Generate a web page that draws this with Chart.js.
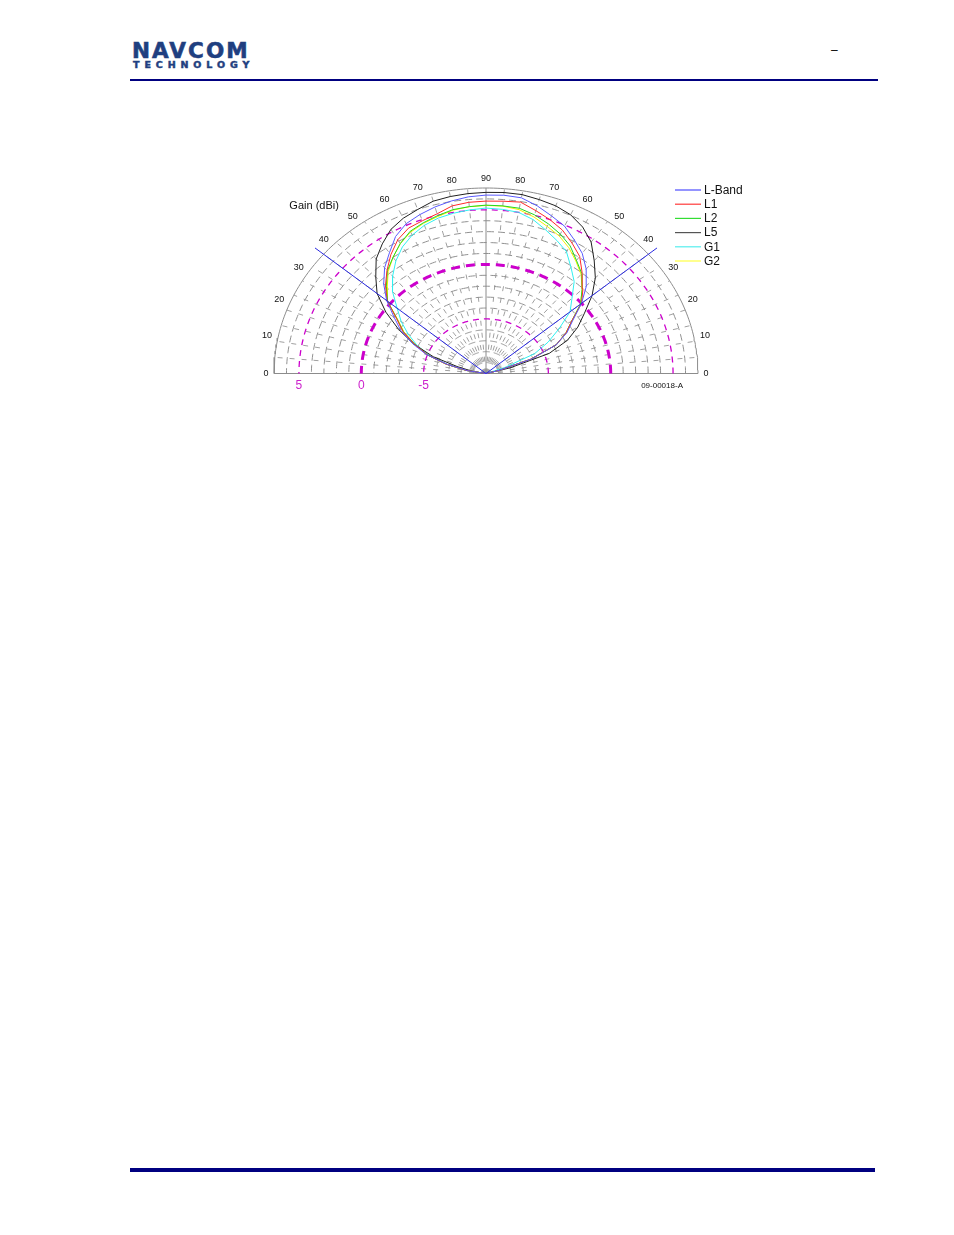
<!DOCTYPE html>
<html>
<head>
<meta charset="utf-8">
<script src="https://cdn.jsdelivr.net/npm/chart.js@4.4.1/dist/chart.umd.min.js"></script>
<style>
  html, body { margin: 0; padding: 0; background: #fff; }
  body { width: 954px; height: 1235px; position: relative; overflow: hidden; font-family: "Liberation Sans", Arial, sans-serif; }
  #logo1 { position: absolute; left: 132px; top: 39.5px; font: bold 21.5px "DejaVu Sans"; line-height: 21.5px; color: #1f3f80; letter-spacing: 2.1px; white-space: nowrap; -webkit-text-stroke: 0.6px #1f3f80; }
  #logo2 { position: absolute; left: 133px; top: 59.5px; font: bold 9.5px "DejaVu Sans"; line-height: 9.5px; color: #1f3f80; letter-spacing: 4.9px; white-space: nowrap; -webkit-text-stroke: 0.5px #1f3f80; }
  #dash { position: absolute; left: 831px; top: 43px; font: 12px "Liberation Sans"; color: #000; }
  #topline { position: absolute; left: 130px; top: 79px; width: 748px; height: 2px; background: #000080; }
  #botline { position: absolute; left: 130px; top: 1168px; width: 745px; height: 4px; background: #000080; }
  #c { position: absolute; left: 0; top: 0; }
</style>
</head>
<body>
<div id="logo1">NAVCOM</div>
<div id="logo2">TECHNOLOGY</div>
<div id="dash">–</div>
<div id="topline"></div>
<div id="botline"></div>
<canvas id="c" width="954" height="420" style="width:954px;height:420px"></canvas>
<script>
// ---------------- DATA ----------------
// Polar angle (deg): 0 = right horizon, 90 = zenith, 180 = left horizon
const angleDeg = [0,5,10,15,20,25,30,35,40,45,50,55,60,65,70,75,80,85,90,95,100,105,110,115,120,125,130,135,140,145,150,155,160,165,170,175,180];

// Gain (dBi); values at or below -10 sit on the centre
const gainLBand = [-10,-10,-10,-9.0,-6.1,-3.8,-2.5,-1.5,0.0,1.4,2.5,3.45,4.15,4.9,5.37,5.9,6.35,6.4,6.35,6.25,6.05,5.8,5.5,5.15,4.5,3.5,2.65,1.6,0.4,-1.0,-2.1,-3.5,-4.9,-6.8,-8.5,-10,-10];
const gainL1    = [-10,-10,-10,-9.0,-6.2,-3.8,-2.6,-1.6,0.0,1.0,2.0,3.1,3.8,4.5,5.0,5.45,5.95,5.85,5.8,5.75,5.6,5.15,4.9,4.7,4.15,3.3,2.35,1.4,0.35,-1.25,-2.3,-3.7,-5.0,-6.7,-8.4,-10,-10];
const gainL2    = [-10,-10,-10,-9.0,-6.2,-3.8,-2.6,-1.6,-0.1,0.9,1.95,2.65,3.5,4.1,4.6,5.05,5.38,5.42,5.43,5.35,5.25,4.98,4.7,4.38,3.75,3.0,2.3,1.3,0.3,-1.3,-2.35,-3.7,-5.0,-6.7,-8.4,-10,-10];
const gainL5    = [-10,-10,-10,-8.0,-4.6,-2.8,-1.5,-0.36,1.1,2.4,3.5,4.7,5.5,6.05,6.35,6.5,6.65,6.65,6.6,6.55,6.47,6.35,6.0,5.7,5.25,4.5,3.7,2.5,1.4,-0.2,-1.9,-3.6,-5.5,-7.7,-9.0,-10,-10];
const gainG1    = [-10,-10,-10,-10,-8.4,-5.7,-4.25,-2.85,-1.2,-0.25,1.0,1.88,2.9,3.45,4.0,4.6,5.0,5.1,5.16,5.05,4.92,4.75,4.45,4.0,3.4,2.6,1.65,0.6,-0.7,-1.7,-2.8,-3.9,-5.2,-6.8,-8.5,-10,-10];
const gainG2    = [-10,-10,-10,-9.0,-6.2,-3.8,-2.6,-1.6,-0.1,0.9,1.86,2.57,3.3,3.9,4.35,4.85,5.25,5.4,5.4,5.35,5.2,4.9,4.65,4.3,3.75,3.0,2.2,1.2,0.35,-1.35,-2.4,-3.75,-5.0,-6.7,-8.4,-10,-10];

const seriesNames  = ['L-Band','L1','L2','L5','G1','G2'];
const seriesGains  = [gainLBand, gainL1, gainL2, gainL5, gainG1, gainG2];

// Axes / grid
const gainFloor = -10;                 // plot centre
const gainCeil  = 7;                   // outer circle
const greyRingGains    = [-9,-8,-7,-6,-4,-3,-2,-1,1,2,3,4,6];
const magentaRingGains = [-5,0,5];
const magentaLabels    = ['-5','0','5'];
const radialAngles = [5,10,15,20,25,30,35,40,45,50,55,60,65,70,75,80,85,95,100,105,110,115,120,125,130,135,140,145,150,155,160,165,170,175];
const elevTicks = [0,10,20,30,40,50,60,70,80,90];
const maskElev  = [40];                // elevation mask lines (both sides)
const maskGainEnd = 7.9;

// ---------------- STYLES ----------------
const lineColors   = ['#5a5aff','#ff2a2a','#22d822','#202020','#30f0f0','#f2f200'];
const legendColors = ['#7070ff','#ff3a3a','#33dd33','#555555','#55eeee','#ffff44'];

const rad = d => d * Math.PI / 180;
const rOf = g => Math.max(0, g - gainFloor);
const polar = (a, r) => ({ x: r * Math.cos(rad(a)), y: r * Math.sin(rad(a)) });
const arc = r => { const p = []; for (let a = 0; a <= 180; a += 1) p.push(polar(a, r)); return p; };
const R = gainCeil - gainFloor;

const base = { showLine: true, pointRadius: 0, pointHoverRadius: 0, fill: false, tension: 0, clip: false, borderWidth: 1 };
const datasets = [];

// mask lines (top)
maskElev.forEach(e => {
  [e, 180 - e].forEach(a => datasets.push(Object.assign({}, base, {
    label: 'mask', data: [polar(a, 0), polar(a, rOf(maskGainEnd))], borderColor: '#2a2ae0', borderWidth: 1
  })));
});
// pattern series
seriesGains.forEach((g, i) => datasets.push(Object.assign({}, base, {
  label: seriesNames[i], data: angleDeg.map((a, k) => polar(a, rOf(g[k]))), borderColor: lineColors[i], borderWidth: 1
})));
// magenta gain rings
magentaRingGains.forEach(g => datasets.push(Object.assign({}, base, {
  label: 'ring' + g, data: arc(rOf(g)), borderColor: '#cc00cc',
  borderWidth: g === 0 ? 3 : 1.3, borderDash: g === 0 ? [9, 6] : [6, 5]
})));
// solid frame
datasets.push(Object.assign({}, base, { label: 'outer', data: arc(R), borderColor: '#8c8c8c' }));
datasets.push(Object.assign({}, base, { label: 'base', data: [polar(180, R), polar(0, R)], borderColor: '#8c8c8c' }));
datasets.push(Object.assign({}, base, { label: 'zen', data: [polar(90, 0), polar(90, R)], borderColor: '#8c8c8c' }));
// grey rings
greyRingGains.forEach(g => datasets.push(Object.assign({}, base, {
  label: 'g' + g, data: arc(rOf(g)), borderColor: '#909090', borderDash: [7, 4]
})));
// radial spokes
radialAngles.forEach(a => datasets.push(Object.assign({}, base, {
  label: 's' + a, data: [polar(a, 0), polar(a, R)], borderColor: '#a0a0a0', borderDash: [5, 7]
})));

const textPlugin = {
  id: 'texts',
  afterDraw(chart) {
    const ctx = chart.ctx, xs = chart.scales.x, ys = chart.scales.y;
    const px = p => [xs.getPixelForValue(p.x), ys.getPixelForValue(p.y)];
    ctx.save();
    ctx.fillStyle = '#111';
    ctx.font = '9px "Liberation Sans", Arial';
    ctx.textAlign = 'center'; ctx.textBaseline = 'middle';
    elevTicks.forEach(e => {
      const off = 3.4 * Math.sin(rad(2 * e));
      const r = e === 0 ? R + 0.65 : R + 0.9;
      [e + off, 180 - e - off].forEach((a, i) => {
        if (e === 90 && i === 1) return;
        const [x, y] = px(polar(a, r));
        ctx.fillText(String(e), x, y);
      });
    });
    // magenta gain labels
    ctx.fillStyle = '#cc22cc';
    ctx.font = '12px "Liberation Sans", Arial';
    magentaRingGains.forEach((g, i) => {
      const [x, y] = px(polar(180, rOf(g)));
      ctx.fillText(magentaLabels[i], x, y + 12);
    });
    // axis title
    ctx.fillStyle = '#111';
    ctx.font = '11px "Liberation Sans", Arial';
    const [tx, ty] = px(polar(132, R + 3.6));
    ctx.fillText('Gain (dBi)', tx, ty);
    // figure id
    ctx.font = '8px "Liberation Sans", Arial';
    const [fx] = px(polar(0, R - 2.0));
    ctx.fillText('09-00018-A', fx - 11, chart.chartArea.bottom + 12.5);
    // legend
    ctx.font = '12px "Liberation Sans", Arial';
    ctx.textAlign = 'left';
    seriesNames.forEach((n, i) => {
      const y = 190 + i * 14.2;
      ctx.strokeStyle = legendColors[i];
      ctx.lineWidth = i === 0 ? 1.5 : 1.2;
      ctx.beginPath(); ctx.moveTo(675, y); ctx.lineTo(701, y); ctx.stroke();
      ctx.fillStyle = '#111';
      ctx.fillText(n, 704, y + 0.5);
    });
    ctx.restore();
  }
};

new Chart(document.getElementById('c'), {
  type: 'scatter',
  data: { datasets },
  options: {
    responsive: false,
    animation: false,
    events: [],
    layout: { padding: { left: 274, right: 256, top: 188, bottom: 46.5 } },
    scales: {
      x: { type: 'linear', min: -R, max: R, display: false },
      y: { type: 'linear', min: 0, max: R, display: false }
    },
    plugins: { legend: { display: false }, tooltip: { enabled: false }, title: { display: false } }
  },
  plugins: [textPlugin]
});
</script>
</body>
</html>
